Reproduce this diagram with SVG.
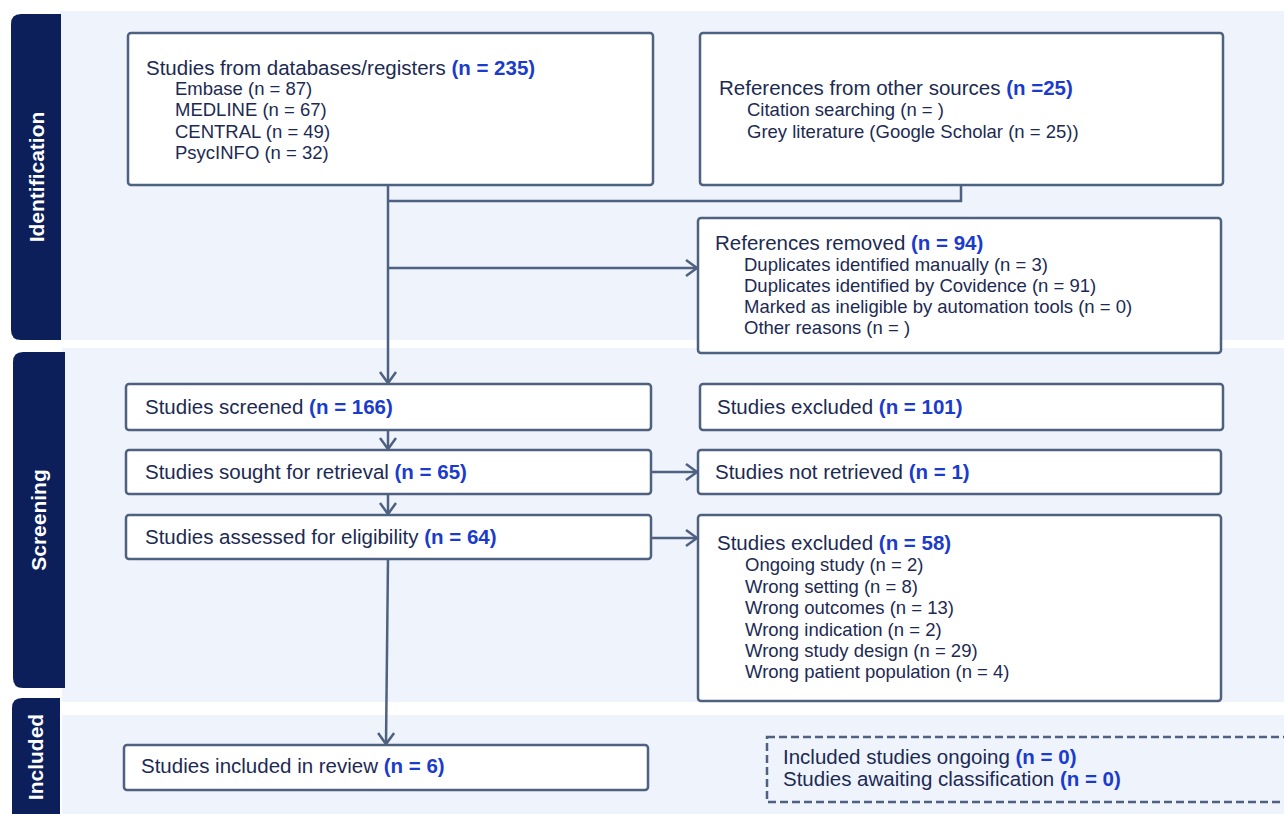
<svg xmlns="http://www.w3.org/2000/svg" width="1284" height="814" viewBox="0 0 1284 814">
<style>
.panel{fill:#eef3fc}
.bar{fill:#0c1f5b}
.side{font-family:"Liberation Sans",Arial,sans-serif;font-weight:bold;font-size:21px;fill:#ffffff}
.box{fill:#ffffff;stroke:#4f6180;stroke-width:2.5}
.dash{fill:none;stroke:#4f6180;stroke-width:2.5;stroke-dasharray:8 4}
.h{font-family:"Liberation Sans",Arial,sans-serif;font-size:20.5px;fill:#1c2a52}
.i{font-family:"Liberation Sans",Arial,sans-serif;font-size:18.5px;fill:#1c2a52}
.n{font-weight:bold;fill:#1a3bcc}
.con{fill:none;stroke:#4f6180;stroke-width:2.5}
</style>
<defs>
<marker id="arr" markerUnits="userSpaceOnUse" markerWidth="16" markerHeight="20" refX="13" refY="9" orient="auto">
<path d="M2,1 L13,9 L2,17" fill="none" stroke="#4f6180" stroke-width="2.5"/>
</marker>
</defs>
<rect width="1284" height="814" fill="#ffffff"/>
<g id="phases">
<rect class="panel" x="60" y="11" width="1224" height="329"/>
<rect class="panel" x="62" y="348" width="1222" height="354"/>
<rect class="panel" x="62" y="715" width="1222" height="99"/>
<path class="bar" d="M61,14 H21 Q11,14 11,24 V330 Q11,340 21,340 H61 Z"/>
<path class="bar" d="M65,352 H23 Q13,352 13,362 V678 Q13,688 23,688 H65 Z"/>
<path class="bar" d="M60,698 H22 Q12,698 12,708 V814 H60 Z"/>
<text class="side" transform="translate(44,177) rotate(-90)" text-anchor="middle">Identification</text>
<text class="side" transform="translate(46,520) rotate(-90)" text-anchor="middle">Screening</text>
<text class="side" transform="translate(43,757) rotate(-90)" text-anchor="middle">Included</text>
</g>
<g id="connectors">
<line class="con" x1="388" y1="185" x2="388" y2="383" marker-end="url(#arr)"/>
<polyline class="con" points="961,185 961,201 388,201"/>
<line class="con" x1="388" y1="268" x2="697" y2="268" marker-end="url(#arr)"/>
<line class="con" x1="388" y1="430" x2="388" y2="449" marker-end="url(#arr)"/>
<line class="con" x1="651" y1="472" x2="697" y2="472" marker-end="url(#arr)"/>
<line class="con" x1="388" y1="494" x2="388" y2="514" marker-end="url(#arr)"/>
<line class="con" x1="651" y1="538" x2="697" y2="538" marker-end="url(#arr)"/>
<line class="con" x1="388" y1="559" x2="386" y2="744" marker-end="url(#arr)"/>
</g>
<g id="db">
<rect class="box" x="128" y="33" width="525" height="152" rx="3"/>
<text class="h" x="146" y="75">Studies from databases/registers <tspan class="n">(n = 235)</tspan></text>
<text class="i" x="175" y="95">Embase (n = 87)</text>
<text class="i" x="175" y="116">MEDLINE (n = 67)</text>
<text class="i" x="175" y="138">CENTRAL (n = 49)</text>
<text class="i" x="175" y="159">PsycINFO (n = 32)</text>
</g>
<g id="other">
<rect class="box" x="700" y="33" width="523" height="152" rx="3"/>
<text class="h" x="719" y="95">References from other sources <tspan class="n">(n =25)</tspan></text>
<text class="i" x="747" y="116">Citation searching (n = )</text>
<text class="i" x="747" y="138">Grey literature (Google Scholar (n = 25))</text>
</g>
<g id="removed">
<rect class="box" x="698" y="218" width="523" height="135" rx="3"/>
<text class="h" x="715" y="250">References removed <tspan class="n">(n = 94)</tspan></text>
<text class="i" x="744" y="271">Duplicates identified manually (n = 3)</text>
<text class="i" x="744" y="292">Duplicates identified by Covidence (n = 91)</text>
<text class="i" x="744" y="313">Marked as ineligible by automation tools (n = 0)</text>
<text class="i" x="744" y="334">Other reasons (n = )</text>
</g>
<g id="screened">
<rect class="box" x="126" y="384" width="525" height="46" rx="3"/>
<text class="h" x="145" y="414">Studies screened <tspan class="n">(n = 166)</tspan></text>
</g>
<g id="excluded1">
<rect class="box" x="700" y="384" width="523" height="46" rx="3"/>
<text class="h" x="717" y="414">Studies excluded <tspan class="n">(n = 101)</tspan></text>
</g>
<g id="sought">
<rect class="box" x="126" y="450" width="525" height="44" rx="3"/>
<text class="h" x="145" y="479">Studies sought for retrieval <tspan class="n">(n = 65)</tspan></text>
</g>
<g id="notretrieved">
<rect class="box" x="698" y="450" width="523" height="44" rx="3"/>
<text class="h" x="715" y="479">Studies not retrieved <tspan class="n">(n = 1)</tspan></text>
</g>
<g id="assessed">
<rect class="box" x="126" y="515" width="525" height="44" rx="3"/>
<text class="h" x="145" y="544">Studies assessed for eligibility <tspan class="n">(n = 64)</tspan></text>
</g>
<g id="excluded2">
<rect class="box" x="698" y="515" width="523" height="186" rx="3"/>
<text class="h" x="717" y="550">Studies excluded <tspan class="n">(n = 58)</tspan></text>
<text class="i" x="745" y="571">Ongoing study (n = 2)</text>
<text class="i" x="745" y="593">Wrong setting (n = 8)</text>
<text class="i" x="745" y="614">Wrong outcomes (n = 13)</text>
<text class="i" x="745" y="636">Wrong indication (n = 2)</text>
<text class="i" x="745" y="657">Wrong study design (n = 29)</text>
<text class="i" x="745" y="678">Wrong patient population  (n = 4)</text>
</g>
<g id="included">
<rect class="box" x="124" y="745" width="524" height="45" rx="3"/>
<text class="h" x="141" y="773">Studies included in review <tspan class="n">(n = 6)</tspan></text>
</g>
<g id="ongoing">
<rect class="dash" x="767" y="737" width="530" height="65"/>
<text class="h" x="783" y="764">Included studies ongoing <tspan class="n">(n = 0)</tspan></text>
<text class="h" x="783" y="786">Studies awaiting classification <tspan class="n">(n = 0)</tspan></text>
</g>
</svg>
